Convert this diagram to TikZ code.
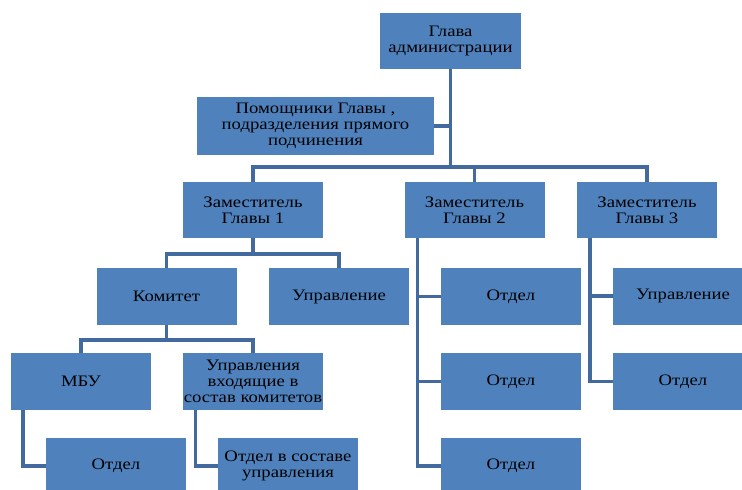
\documentclass[tikz,border=0pt]{standalone}
\usepackage{fontspec}
\setmainfont[FakeStretch=1.17]{Liberation Serif}
\usetikzlibrary{calc}
\definecolor{boxblue}{RGB}{79,129,189}
\definecolor{lineblue}{RGB}{66,106,158}

\begin{document}
\begin{tikzpicture}[x=1pt,y=-1pt,font=\fontsize{16}{16}\selectfont,
  box/.style={fill=boxblue,align=center,minimum width=140pt,minimum height=57pt,inner sep=1pt},
  link/.style={draw=lineblue,line width=3.5pt}]
\useasboundingbox (0,0) rectangle (742,490);
\clip (0,0) rectangle (742,490);
% top
\node[box,minimum width=141pt,minimum height=56pt] (glava) at (450.5,41) {Глава\\администрации};
\node[box,minimum width=237pt,minimum height=58pt] (pom) at (315.5,126) {Помощники Главы ,\\подразделения прямого\\подчинения};
% deputies
\node[box,minimum height=56pt] (zam1) at (253,210) {Заместитель\\Главы 1};
\node[box,minimum height=56pt] (zam2) at (474.5,210) {Заместитель\\Главы 2};
\node[box,minimum height=56pt] (zam3) at (647,210) {Заместитель\\Главы 3};
% first branch
\node[box] (kom) at (166.5,296.5) {Комитет};
\node[box] (upr1) at (339,296.5) {Управление};
\node[box] (mbu) at (81,381.5) {МБУ};
\node[box] (uprk) at (253,381.5) {Управления\\входящие в\\состав комитетов};
\node[box] (otd1) at (116,466) {Отдел};
\node[box] (otdu) at (288,466) {Отдел в составе\\управления};
% second branch
\node[box] (otd21) at (511,296.5) {Отдел};
\node[box] (otd22) at (511,381.5) {Отдел};
\node[box] (otd23) at (511,466) {Отдел};
% third branch
\node[box] (upr3) at (683,296) {Управление};
\node[box] (otd3) at (683,381.5) {Отдел};

% links
\coordinate (bar0) at (450.5,167);
\draw[link] (glava.south) -- (bar0);
\draw[link] (glava.south |- pom.east) -- (pom.east);
\draw[link] (zam1.north) |- (bar0) -| (zam3.north);
\draw[link] (zam2.north) -- (zam2.north |- bar0);
\draw[link] (zam1.south) -- ++(0,16) coordinate (bar1);
\draw[link] (kom.north) |- (bar1) -| (upr1.north);
\draw[link] (kom.south) -- ++(0,15) coordinate (bar2);
\draw[link] (mbu.north) |- (bar2) -| (uprk.north);
\draw[link] ($(mbu.south west)+(12,0)$) |- (otd1.west);
\draw[link] ($(uprk.south west)+(13,0)$) |- (otdu.west);
\coordinate (s2) at ($(zam2.south west)+(13,0)$);
\draw[link] (s2) |- (otd23.west);
\foreach \n in {otd21,otd22} \draw[link] (s2 |- \n.west) -- (\n.west);
\coordinate (s3) at ($(zam3.south west)+(13,0)$);
\draw[link] (s3) |- (otd3.west);
\draw[link] (s3 |- upr3.west) -- (upr3.west);
\end{tikzpicture}
\end{document}
